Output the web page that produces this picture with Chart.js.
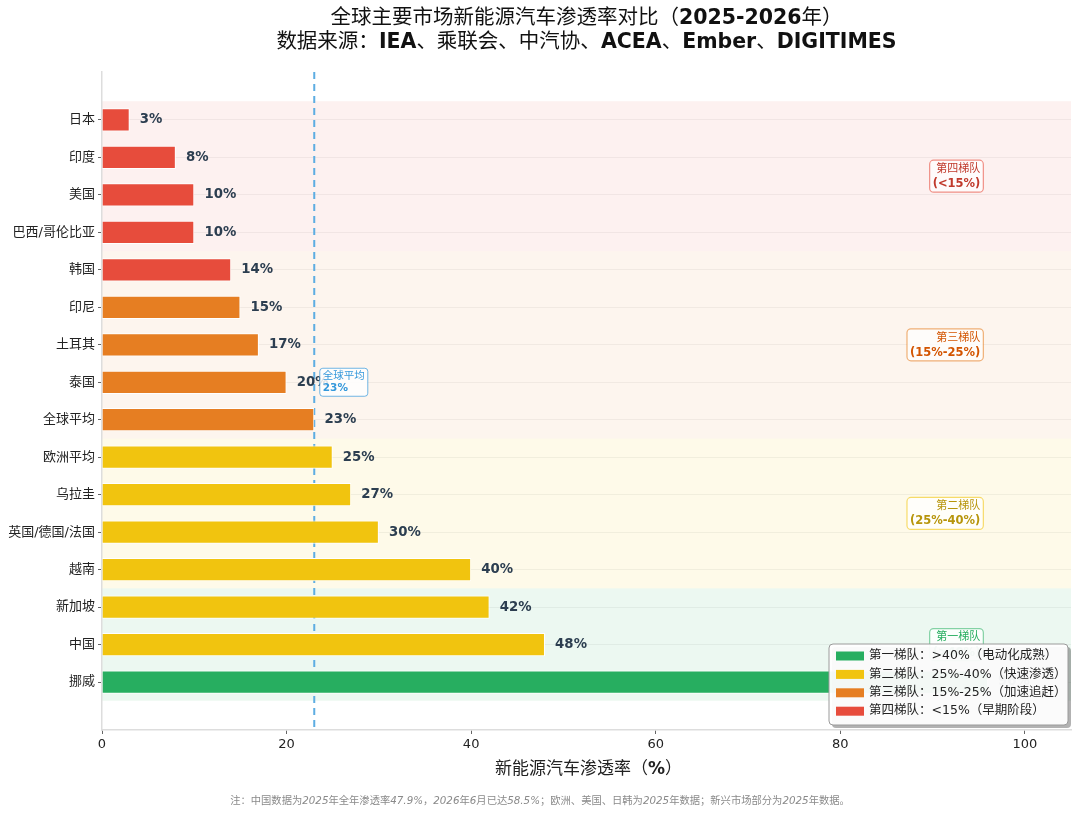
<!DOCTYPE html>
<html lang="zh-CN">
<head>
<meta charset="utf-8">
<title>全球主要市场新能源汽车渗透率对比</title>
<script src="https://cdn.jsdelivr.net/npm/chart.js@4.4.1/dist/chart.umd.min.js"></script>
<style>
    body { margin: 0; background: #fff; }
    #wrap { position: relative; width: 1080px; height: 813px; font-family: "DejaVu Sans", "Noto Sans CJK SC", sans-serif; }
    .title { position: absolute; top: 5px; left: 102px; width: 969px; text-align: center; font-size: 20.5px; line-height: 24px; color: #111; }
    .xtitle { position: absolute; top: 757px; left: 104px; width: 969px; text-align: center; font-size: 17px; line-height: 22px; color: #222; }
    .note { position: absolute; top: 793px; left: 0; width: 1080px; text-align: center; font-size: 10.3px; line-height: 14px; color: #8a8a8a; }
    canvas { position: absolute; left: 0; top: 0; }
</style>
</head>
<body>
<div id="wrap">
    <canvas id="chart" width="1080" height="813"></canvas>
    <div class="title">
        全球主要市场新能源汽车渗透率对比（<b>2025-2026</b>年）<br>
        数据来源：<b>IEA</b>、乘联会、中汽协、<b>ACEA</b>、<b>Ember</b>、<b>DIGITIMES</b>
    </div>
    <div class="xtitle">新能源汽车渗透率（<b>%</b>）</div>
    <div class="note">注：中国数据为<i>2025</i>年全年渗透率<i>47.9%</i>，<i>2026</i>年<i>6</i>月已达<i>58.5%</i>；欧洲、美国、日韩为<i>2025</i>年数据；新兴市场部分为<i>2025</i>年数据。</div>
</div>

<script>
// chart data
const categories = ['日本', '印度', '美国', '巴西/哥伦比亚', '韩国', '印尼', '土耳其', '泰国', '全球平均',
    '欧洲平均', '乌拉圭', '英国/德国/法国', '越南', '新加坡', '中国', '挪威'];
const penetration = [3, 8, 10, 10, 14, 15, 17, 20, 23, 25, 27, 30, 40, 42, 48, 96];
// tier of each bar (1 = 第一梯队 ... 4 = 第四梯队)
const barTier = [4, 4, 4, 4, 4, 3, 3, 3, 3, 2, 2, 2, 2, 2, 2, 1];
const globalAvg = 23;
const xTicks = [0, 20, 40, 60, 80, 100];

// tiers, index 0 = 第一梯队
const tierNames = ['第一梯队', '第二梯队', '第三梯队', '第四梯队'];
const tierRanges = ['>40%', '25%-40%', '15%-25%', '<15%'];
const tierDesc = ['电动化成熟', '快速渗透', '加速追赶', '早期阶段'];
// first and last category index covered by each tier band
const bandFrom = [13, 9, 4, 0];
const bandTo = [15, 12, 8, 3];

const tierColors = ['#27ae60', '#f1c40f', '#e67e22', '#e74c3c'];
const tierText = ['#27ae60', '#b7950b', '#d35400', '#c0392b'];
const tierBorder = ['rgba(39,174,96,0.55)', 'rgba(241,196,15,0.6)', 'rgba(230,126,34,0.6)', 'rgba(231,76,60,0.6)'];
const tierBand = ['rgba(39,174,96,0.09)', 'rgba(241,196,15,0.09)', 'rgba(230,126,34,0.08)', 'rgba(231,76,60,0.08)'];

const FONT = '"DejaVu Sans", "Noto Sans CJK SC", sans-serif';

function roundRect(ctx, x, y, w, h, r) {
    ctx.beginPath();
    ctx.moveTo(x + r, y);
    ctx.arcTo(x + w, y, x + w, y + h, r);
    ctx.arcTo(x + w, y + h, x, y + h, r);
    ctx.arcTo(x, y + h, x, y, r);
    ctx.arcTo(x, y, x + w, y, r);
    ctx.closePath();
}

const decorPlugin = {
    id: 'decor',
    beforeDraw(chart) {
        const { ctx, chartArea, scales: { y } } = chart;
        ctx.save();
        tierNames.forEach((_, t) => {
            const top = y.getPixelForValue(bandFrom[t] - 0.5);
            const bottom = y.getPixelForValue(bandTo[t] + 0.5);
            ctx.fillStyle = tierBand[t];
            ctx.fillRect(chartArea.left, top, chartArea.right - chartArea.left, bottom - top);
        });
        ctx.restore();
    },
    beforeDatasetsDraw(chart) {
        const { ctx, chartArea, scales: { x } } = chart;
        const px = x.getPixelForValue(globalAvg);
        ctx.save();
        ctx.strokeStyle = '#5dade2';
        ctx.lineWidth = 2;
        ctx.setLineDash([7, 5]);
        ctx.beginPath();
        ctx.moveTo(px, chartArea.top);
        ctx.lineTo(px, chartArea.bottom);
        ctx.stroke();
        ctx.restore();
    },
    afterDatasetsDraw(chart) {
        const { ctx, scales: { x, y } } = chart;
        ctx.save();

        // value labels
        ctx.font = `bold 13.3px ${FONT}`;
        ctx.fillStyle = '#2c3e50';
        ctx.textBaseline = 'middle';
        ctx.textAlign = 'left';
        penetration.forEach((v, i) => {
            ctx.fillText(v + '%', x.getPixelForValue(v + 1.1), y.getPixelForValue(i));
        });

        // tier labels on the right
        tierNames.forEach((name, t) => {
            const cy = y.getPixelForValue((bandFrom[t] + bandTo[t]) / 2);
            const right = x.getPixelForValue(95.5);
            const sub = '(' + tierRanges[t] + ')';
            ctx.font = `bold 11.5px ${FONT}`;
            const w2 = ctx.measureText(sub).width;
            ctx.font = `11px ${FONT}`;
            const w1 = ctx.measureText(name).width;
            const w = Math.max(w1, w2) + 6;
            const h = 32;
            roundRect(ctx, right - w, cy - h / 2, w, h, 4);
            ctx.fillStyle = 'rgba(255,255,255,0.75)';
            ctx.fill();
            ctx.strokeStyle = tierBorder[t];
            ctx.lineWidth = 1.2;
            ctx.stroke();
            ctx.fillStyle = tierText[t];
            ctx.textAlign = 'right';
            ctx.font = `11px ${FONT}`;
            ctx.fillText(name, right - 3, cy - 7);
            ctx.font = `bold 11.5px ${FONT}`;
            ctx.fillText(sub, right - 3, cy + 8);
        });

        // global average label
        const ax = x.getPixelForValue(globalAvg + 0.6);
        const ay = y.getPixelForValue(7);
        roundRect(ctx, ax, ay - 14, 48, 28, 3);
        ctx.fillStyle = 'rgba(255,255,255,0.85)';
        ctx.fill();
        ctx.strokeStyle = 'rgba(52,152,219,0.7)';
        ctx.lineWidth = 1;
        ctx.stroke();
        ctx.fillStyle = '#3498db';
        ctx.textAlign = 'left';
        ctx.font = `10.5px ${FONT}`;
        ctx.fillText('全球平均', ax + 3, ay - 6);
        ctx.font = `bold 10.5px ${FONT}`;
        ctx.fillText(globalAvg + '%', ax + 3, ay + 6);

        ctx.restore();
    },
    afterDraw(chart) {
        const { ctx, chartArea } = chart;
        const w = 239, h = 81;
        const lx = chartArea.right - 3 - w;
        const ly = chartArea.bottom - 5 - h;
        ctx.save();
        roundRect(ctx, lx + 3, ly + 3, w, h, 4);
        ctx.fillStyle = 'rgba(0,0,0,0.3)';
        ctx.fill();
        roundRect(ctx, lx, ly, w, h, 4);
        ctx.fillStyle = 'rgba(255,255,255,0.95)';
        ctx.fill();
        ctx.strokeStyle = '#9a9a9a';
        ctx.lineWidth = 1;
        ctx.stroke();
        ctx.font = `12.5px ${FONT}`;
        ctx.textBaseline = 'middle';
        ctx.textAlign = 'left';
        tierNames.forEach((name, t) => {
            const ry = ly + 12 + t * 18.4;
            ctx.fillStyle = tierColors[t];
            ctx.fillRect(lx + 7, ry - 4.5, 28, 9);
            ctx.fillStyle = '#222';
            ctx.fillText(`${name}：${tierRanges[t]}（${tierDesc[t]}）`, lx + 40, ry);
        });
        ctx.restore();
    }
};

new Chart(document.getElementById('chart'), {
    type: 'bar',
    data: {
        datasets: [{
            data: penetration.map((v, i) => ({ x: v, y: i })),
            backgroundColor: barTier.map(t => tierColors[t - 1]),
            borderColor: '#ffffff',
            borderWidth: 1,
            barPercentage: 0.62,
            categoryPercentage: 1
        }]
    },
    options: {
        indexAxis: 'y',
        responsive: false,
        animation: false,
        layout: { padding: { top: 72, right: 9, left: 0, bottom: 0 } },
        plugins: {
            legend: { display: false },
            title: { display: false },
            tooltip: { enabled: false }
        },
        scales: {
            x: {
                type: 'linear',
                min: 0,
                max: 105,
                afterBuildTicks: scale => { scale.ticks = xTicks.map(v => ({ value: v })); },
                afterFit: scale => { scale.height = 83; },
                grid: { drawOnChartArea: false, tickLength: 4, tickColor: '#666' },
                border: { color: '#dddddd', width: 1.5 },
                ticks: { color: '#222', padding: 3, font: { family: FONT, size: 13 } }
            },
            y: {
                type: 'linear',
                reverse: true,
                offset: false,
                min: -1.28,
                max: 16.28,
                afterBuildTicks: scale => { scale.ticks = categories.map((c, i) => ({ value: i })); },
                afterFit: scale => { scale.width = 102; },
                grid: { offset: false, color: 'rgba(0,0,0,0.05)', tickLength: 4, tickColor: '#666' },
                border: { color: '#dddddd', width: 1.5 },
                ticks: {
                    color: '#222',
                    padding: 3,
                    font: { family: FONT, size: 13 },
                    callback: value => categories[value] ?? ''
                }
            }
        }
    },
    plugins: [decorPlugin]
});
</script>
</body>
</html>
